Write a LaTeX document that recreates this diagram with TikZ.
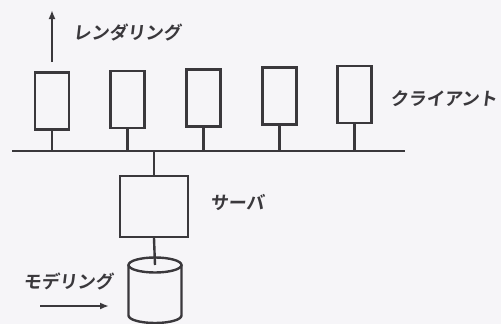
\documentclass[tikz,border=0pt]{standalone}
\usepackage{fontspec}
\newfontfamily\jp[FakeSlant=0.12]{Noto Sans CJK JP Bold}
\usetikzlibrary{arrows.meta}
\definecolor{ink}{RGB}{58,56,60}
\definecolor{paper}{RGB}{246,245,248}
\begin{document}
\begin{tikzpicture}[x=1pt,y=-1pt,
  line width=2.4pt, draw=ink,
  unit/.style={draw=ink, line width=2.4pt, rectangle, inner sep=0pt},
  client/.style={unit, minimum width=34pt, minimum height=57pt},
  lbl/.style={text=ink, font=\jp\fontsize{18}{18}\selectfont, inner sep=0pt, anchor=west},
  link/.style={draw=ink, line width=2.4pt},
  flow/.style={draw=ink, line width=2.4pt, -{Latex[length=9pt,width=7pt]}}]
  % page
  \fill[paper] (0,0) rectangle (501,324);
  \useasboundingbox (0,0) rectangle (501,324);

  % client machines along the network
  \node[client] (c1) at (52,101) {};
  \node[client] (c2) at (127.5,99.5) {};
  \node[client] (c3) at (203.5,98) {};
  \node[client] (c4) at (279.5,96) {};
  \node[client] (c5) at (354.5,94.5) {};

  % network bus
  \coordinate (busL) at (12,151);
  \coordinate (busR) at (405,151);
  \draw[link] (busL) -- (busR);
  \foreach \c in {c1,c2,c3,c4,c5}
    \draw[link] (\c.south) -- (\c.south |- busL);

  % server
  \node[unit, minimum width=68pt, minimum height=61pt] (srv) at (154,206.5) {};
  \draw[link] (srv.north |- busL) -- (srv.north);

  % database cylinder
  \coordinate (dbtop) at (155,265);
  \node[minimum width=53pt, minimum height=66pt, inner sep=0pt] (db) at (155,290) {};
  \draw[ink, line width=2.4pt] (dbtop) ellipse [x radius=26.5, y radius=7.5];
  \draw[ink, line width=2.4pt] (128.5,265) -- (128.5,315.5)
     arc[start angle=180, end angle=360, x radius=26.5, y radius=-7.5]
     -- (181.5,265);
  \draw[link] (srv.south) -- (dbtop);

  % labels and data flow arrows
  \coordinate (rendFrom) at (52,62);
  \coordinate (rendTo) at (52,10);
  \draw[flow] (rendFrom) -- (rendTo);
  \node[lbl] (rend) at (72,33) {レンダリング};

  \node[lbl] (cl) at (389,99) {クライアント};
  \node[lbl] (sv) at (209,202) {サーバ};

  \node[lbl] (model) at (22,281) {モデリング};
  \coordinate (modFrom) at (40,306);
  \coordinate (modTo) at (109,306);
  \draw[flow] (modFrom) -- (modTo);
\end{tikzpicture}
\end{document}
